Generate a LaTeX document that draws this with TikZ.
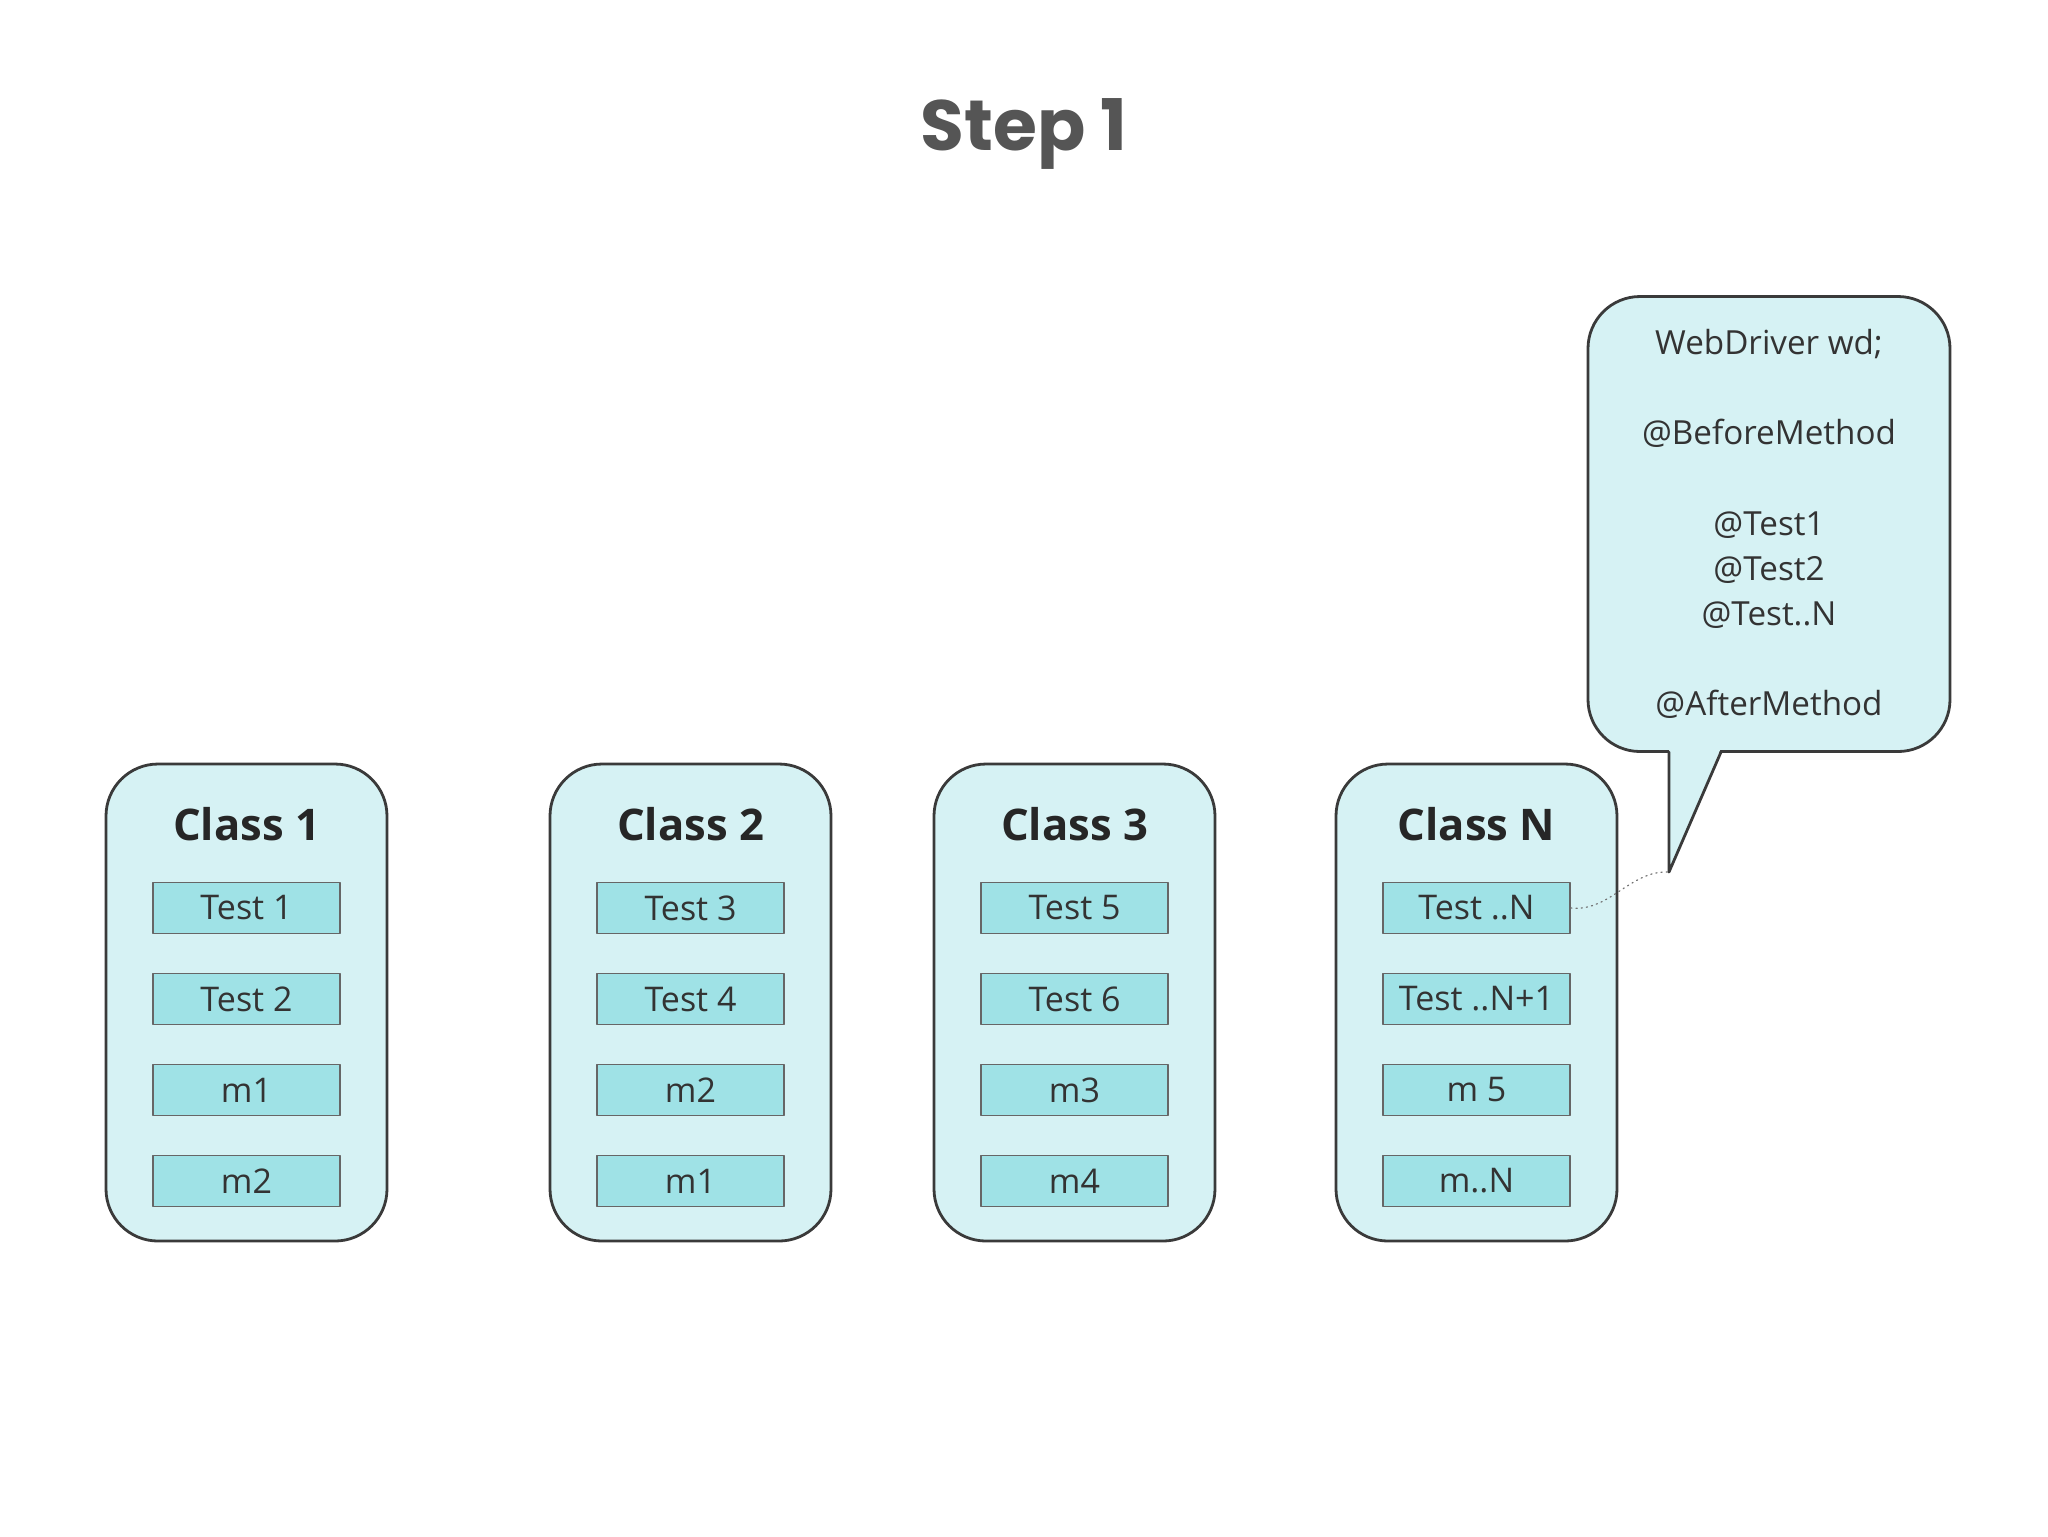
\documentclass[tikz,border=0pt]{standalone}
\usepackage{fontspec}
\setmainfont{Open Sans}
\newfontfamily\titlefont{Poppins}
\definecolor{classfill}{HTML}{D6F2F4}
\definecolor{itemfill}{HTML}{9FE2E6}
\definecolor{edgegray}{HTML}{3A3A3A}
\definecolor{titlegray}{HTML}{555555}
\tikzset{
	classbox/.style={draw=edgegray,line width=0.7pt,fill=classfill,rounded corners=13pt,minimum width=70.25pt,minimum height=119.25pt},
	classname/.style={font=\fontsize{10.9}{12}\selectfont\bfseries,text=black!85},
	itembox/.style={draw=black!60,line width=0.4pt,fill=itemfill,minimum width=46.75pt,minimum height=12.75pt,inner sep=0pt,font=\fontsize{8.5}{9}\selectfont,text=black!80},
}
\begin{document}
\begin{tikzpicture}[x=0.25pt,y=-0.25pt,line cap=round,line join=round]
			\useasboundingbox (0,0) rectangle (2048,1536);
			\node[font=\titlefont\bfseries\fontsize{17.8}{20}\selectfont,text=titlegray] (step) at (1024,134) {Step 1};
			% classes
			\node[classbox] (c1) at (246.5,1002.5) {};
			\node[classbox] (c2) at (690.5,1002.5) {};
			\node[classbox] (c3) at (1074.5,1002.5) {};
			\node[classbox] (cN) at (1476.5,1002.5) {};
			\node[classname] (n1) at (246.5,824) {Class 1};
			\node[classname] (n2) at (690.5,824) {Class 2};
			\node[classname] (n3) at (1074.5,824) {Class 3};
			\node[classname] (nN) at (1476.5,824) {Class N};
			% methods
			\node[itembox] (t1) at (246.5,908) {Test 1};
			\node[itembox] (t2) at (246.5,999) {Test 2};
			\node[itembox] (m11) at (246.5,1090) {m1};
			\node[itembox] (m12) at (246.5,1181) {m2};
			\node[itembox] (t3) at (690.5,908) {Test 3};
			\node[itembox] (t4) at (690.5,999) {Test 4};
			\node[itembox] (m22) at (690.5,1090) {m2};
			\node[itembox] (m21) at (690.5,1181) {m1};
			\node[itembox] (t5) at (1074.5,908) {Test 5};
			\node[itembox] (t6) at (1074.5,999) {Test 6};
			\node[itembox] (m3) at (1074.5,1090) {m3};
			\node[itembox] (m4) at (1074.5,1181) {m4};
			\node[itembox] (tN) at (1476.5,908) {Test ..N};
			\node[itembox] (tN1) at (1476.5,999) {Test ..N+1};
			\node[itembox] (m5) at (1476.5,1090) {m 5};
			\node[itembox] (mN) at (1476.5,1181) {m..N};
			% callout
			\node[classbox,minimum width=90.5pt,minimum height=113.75pt,align=center,font=\fontsize{8.3}{11.3}\selectfont,text=black!80] (wd) at (1769,524) {WebDriver wd;\\[11.3pt]@BeforeMethod\\[11.3pt]@Test1\\@Test2\\@Test..N\\[11.3pt]@AfterMethod};
			\coordinate (tip) at (1669,872);
			\fill[classfill] (1669,748) -- (tip) -- (1721,748) -- cycle;
			\draw[edgegray,line width=0.7pt] (1669,752) -- (tip) -- (1721,752);
			\draw[black!55,line width=0.3pt,densely dotted] (tN.east) .. controls (1610,912) and (1630,870) .. (tip);
		\end{tikzpicture}
\end{document}
